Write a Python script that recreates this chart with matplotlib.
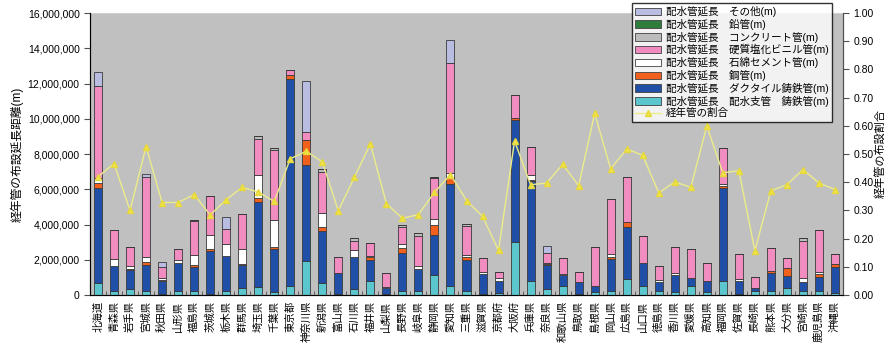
import matplotlib.pyplot as plt
import numpy as np
from matplotlib.patches import Patch
from matplotlib.lines import Line2D
from matplotlib.ticker import FuncFormatter

plt.rcParams['font.family'] = ['Liberation Sans', 'Noto Sans CJK JP']

prefectures = ["北海道", "青森県", "岩手県", "宮城県", "秋田県", "山形県", "福島県", "茨城県",
               "栃木県", "群馬県", "埼玉県", "千葉県", "東京都", "神奈川県", "新潟県", "富山県",
               "石川県", "福井県", "山梨県", "長野県", "岐阜県", "静岡県", "愛知県", "三重県",
               "滋賀県", "京都府", "大阪府", "兵庫県", "奈良県", "和歌山県", "鳥取県", "島根県",
               "岡山県", "広島県", "山口県", "徳島県", "香川県", "愛媛県", "高知県", "福岡県",
               "佐賀県", "長崎県", "熊本県", "大分県", "宮崎県", "鹿児島県", "沖縄県"]

# pipe length by material, in millions of metres
cast_iron = [0.70, 0.23, 0.36, 0.21, 0.05, 0.23, 0.23, 0.03, 0.25, 0.42, 0.47, 0.19,
             0.51, 1.94, 0.70, 0.05, 0.36, 0.80, 0.05, 0.23, 0.23, 1.12, 0.53, 0.25,
             0.05, 0.13, 2.98, 0.81, 0.34, 0.51, 0.05, 0.19, 0.23, 0.89, 0.51, 0.23,
             0.15, 0.51, 0.19, 0.81, 0.05, 0.25, 0.23, 0.38, 0.25, 0.25, 0.13]
ductile = [5.37, 1.42, 1.06, 1.48, 0.75, 1.61, 1.35, 2.48, 1.99, 1.29, 4.81, 2.41,
           11.77, 5.41, 2.91, 1.19, 1.82, 1.19, 0.33, 2.14, 1.27, 2.30, 5.77, 1.74,
           1.13, 0.68, 6.93, 5.64, 1.37, 0.63, 0.67, 0.32, 1.80, 2.94, 1.33, 0.49,
           0.99, 0.48, 0.61, 5.26, 0.75, 0.13, 1.01, 0.72, 0.51, 0.79, 1.48]
steel = [0.29, 0.00, 0.08, 0.17, 0.05, 0.00, 0.15, 0.09, 0.00, 0.07, 0.22, 0.10,
         0.23, 1.42, 0.24, 0.00, 0.00, 0.16, 0.00, 0.29, 0.00, 0.55, 0.31, 0.19,
         0.00, 0.00, 0.15, 0.10, 0.07, 0.00, 0.00, 0.00, 0.10, 0.29, 0.00, 0.00,
         0.00, 0.00, 0.00, 0.13, 0.00, 0.00, 0.14, 0.42, 0.00, 0.14, 0.14]
asbestos = [0.28, 0.40, 0.15, 0.32, 0.14, 0.15, 0.55, 0.78, 0.66, 0.82, 1.29, 1.57,
            0.00, 0.00, 0.80, 0.00, 0.38, 0.09, 0.09, 0.23, 0.17, 0.34, 0.32, 0.10,
            0.15, 0.14, 0.00, 0.28, 0.06, 0.05, 0.00, 0.00, 0.17, 0.00, 0.00, 0.13,
            0.13, 0.00, 0.00, 0.10, 0.11, 0.00, 0.00, 0.00, 0.19, 0.15, 0.00]
pvc = [5.22, 1.61, 1.10, 4.52, 0.62, 0.61, 1.90, 2.22, 0.84, 2.00, 2.08, 3.95,
       0.23, 0.47, 2.34, 0.89, 0.53, 0.70, 0.77, 0.94, 1.69, 2.30, 6.21, 1.65,
       0.76, 0.38, 1.29, 1.56, 0.57, 0.90, 0.61, 2.24, 3.15, 2.58, 1.48, 0.80,
       1.48, 1.61, 1.00, 2.05, 1.41, 0.63, 1.28, 0.57, 2.13, 2.33, 0.57]
concrete = [0.00, 0.00, 0.00, 0.00, 0.00, 0.00, 0.07, 0.00, 0.00, 0.00, 0.15, 0.11,
            0.00, 0.00, 0.17, 0.00, 0.14, 0.00, 0.00, 0.16, 0.15, 0.00, 0.00, 0.10,
            0.00, 0.00, 0.00, 0.00, 0.00, 0.00, 0.00, 0.00, 0.00, 0.00, 0.00, 0.00,
            0.00, 0.00, 0.00, 0.00, 0.00, 0.00, 0.00, 0.00, 0.15, 0.00, 0.00]
lead = [0.00] * 21 + [0.09] + [0.00] * 25
other = [0.80, 0.00, 0.00, 0.17, 0.25, 0.00, 0.00, 0.00, 0.68, 0.00, 0.00, 0.00,
         0.00, 2.93, 0.00, 0.00, 0.00, 0.00, 0.00, 0.00, 0.00, 0.00, 1.31, 0.00,
         0.00, 0.00, 0.00, 0.00, 0.38, 0.00, 0.00, 0.00, 0.00, 0.00, 0.00, 0.00,
         0.00, 0.00, 0.00, 0.00, 0.00, 0.00, 0.00, 0.00, 0.00, 0.00, 0.00]

# share of aged pipes
aged_ratio = [0.419, 0.466, 0.300, 0.526, 0.328, 0.328, 0.356, 0.284, 0.338, 0.382,
              0.365, 0.332, 0.483, 0.510, 0.472, 0.299, 0.417, 0.536, 0.324, 0.272,
              0.285, 0.364, 0.427, 0.335, 0.279, 0.158, 0.546, 0.391, 0.397, 0.463,
              0.388, 0.644, 0.447, 0.518, 0.495, 0.362, 0.401, 0.382, 0.599, 0.433,
              0.441, 0.157, 0.370, 0.391, 0.445, 0.397, 0.374]

series = [
    (cast_iron, "配水管延長　配水支管　鋳鉄管(m)", "#5cc6cf"),
    (ductile, "配水管延長　ダクタイル鋳鉄管(m)", "#1f4fa6"),
    (steel, "配水管延長　鋼管(m)", "#f2601e"),
    (asbestos, "配水管延長　石綿セメント管(m)", "#ffffff"),
    (pvc, "配水管延長　硬質塩化ビニル管(m)", "#f08cc0"),
    (concrete, "配水管延長　コンクリート管(m)", "#bcbcbc"),
    (lead, "配水管延長　鉛管(m)", "#2f7d3c"),
    (other, "配水管延長　その他(m)", "#b9bde2"),
]

fig = plt.figure(figsize=(8.9, 3.45), dpi=100)
ax = fig.add_axes([90 / 890, 50 / 345, 753 / 890, 282 / 345])
ax.set_facecolor("#c0c0c0")

x = np.arange(len(prefectures))
bottom = np.zeros(len(prefectures))
for vals, label, color in series:
    v = np.array(vals) * 1e6
    ax.bar(x, v, 0.5, bottom=bottom, color=color, edgecolor="#3a3a3a", linewidth=0.6)
    bottom += v

ax.set_xlim(-0.5, len(prefectures) - 0.5)
ax.set_ylim(0, 16e6)
ax.set_yticks(np.arange(0, 16e6 + 1, 2e6))
ax.yaxis.set_major_formatter(FuncFormatter(lambda v, p: f"{int(v):,}"))
ax.tick_params(axis="y", labelsize=7.5, length=4, direction="out", color="#505050")
ax.set_xticks(x)
ax.set_xticklabels(prefectures, rotation=90, fontsize=7.5, va="top")
ax.tick_params(axis="x", which="major", length=0, pad=4)
ax.set_xticks(np.arange(-0.5, len(prefectures), 1), minor=True)
ax.tick_params(axis="x", which="minor", length=3, direction="in", color="#505050")
ax.set_ylabel("経年管の布設延長距離(m)", fontsize=8.5, labelpad=3)
for side in ["left", "bottom", "right"]:
    ax.spines[side].set_color("#505050")
ax.spines["top"].set_color("#d0d0d0")

ax2 = ax.twinx()
ax2.plot(x, aged_ratio, color="#ecec8a", lw=1, marker="^", markersize=5,
         markerfacecolor="#f0e448", markeredgecolor="#e6d83a")
ax2.set_ylim(0, 1)
ax2.set_yticks(np.arange(0, 1.01, 0.1))
ax2.yaxis.set_major_formatter(FuncFormatter(lambda v, p: f"{v:.2f}"))
ax2.tick_params(axis="y", labelsize=7.5, length=4, direction="out", color="#505050")
ax2.set_ylabel("経年管の布設割合", fontsize=8, labelpad=1)
ax2.spines["top"].set_visible(False)
ax2.spines["right"].set_color("#505050")

handles = [Patch(facecolor=c, edgecolor="#404040", linewidth=0.6) for _, _, c in series[::-1]]
labels = [lab for _, lab, _ in series[::-1]]
handles.append(Line2D([], [], color="#ecec8a", lw=1, marker="^", markersize=5,
                      markerfacecolor="#f0e448", markeredgecolor="#e6d83a"))
labels.append("経年管の割合")
leg = fig.legend(handles, labels, loc="upper left", bbox_to_anchor=(632 / 890, 1 - 3 / 345),
                 frameon=True, fancybox=False, edgecolor="black", fontsize=7.6,
                 labelspacing=0.16, handlelength=2.4, handleheight=0.7,
                 handletextpad=0.5, borderpad=0.3, borderaxespad=0)
leg.get_frame().set_linewidth(1)

fig.savefig("out.png", dpi=100)
